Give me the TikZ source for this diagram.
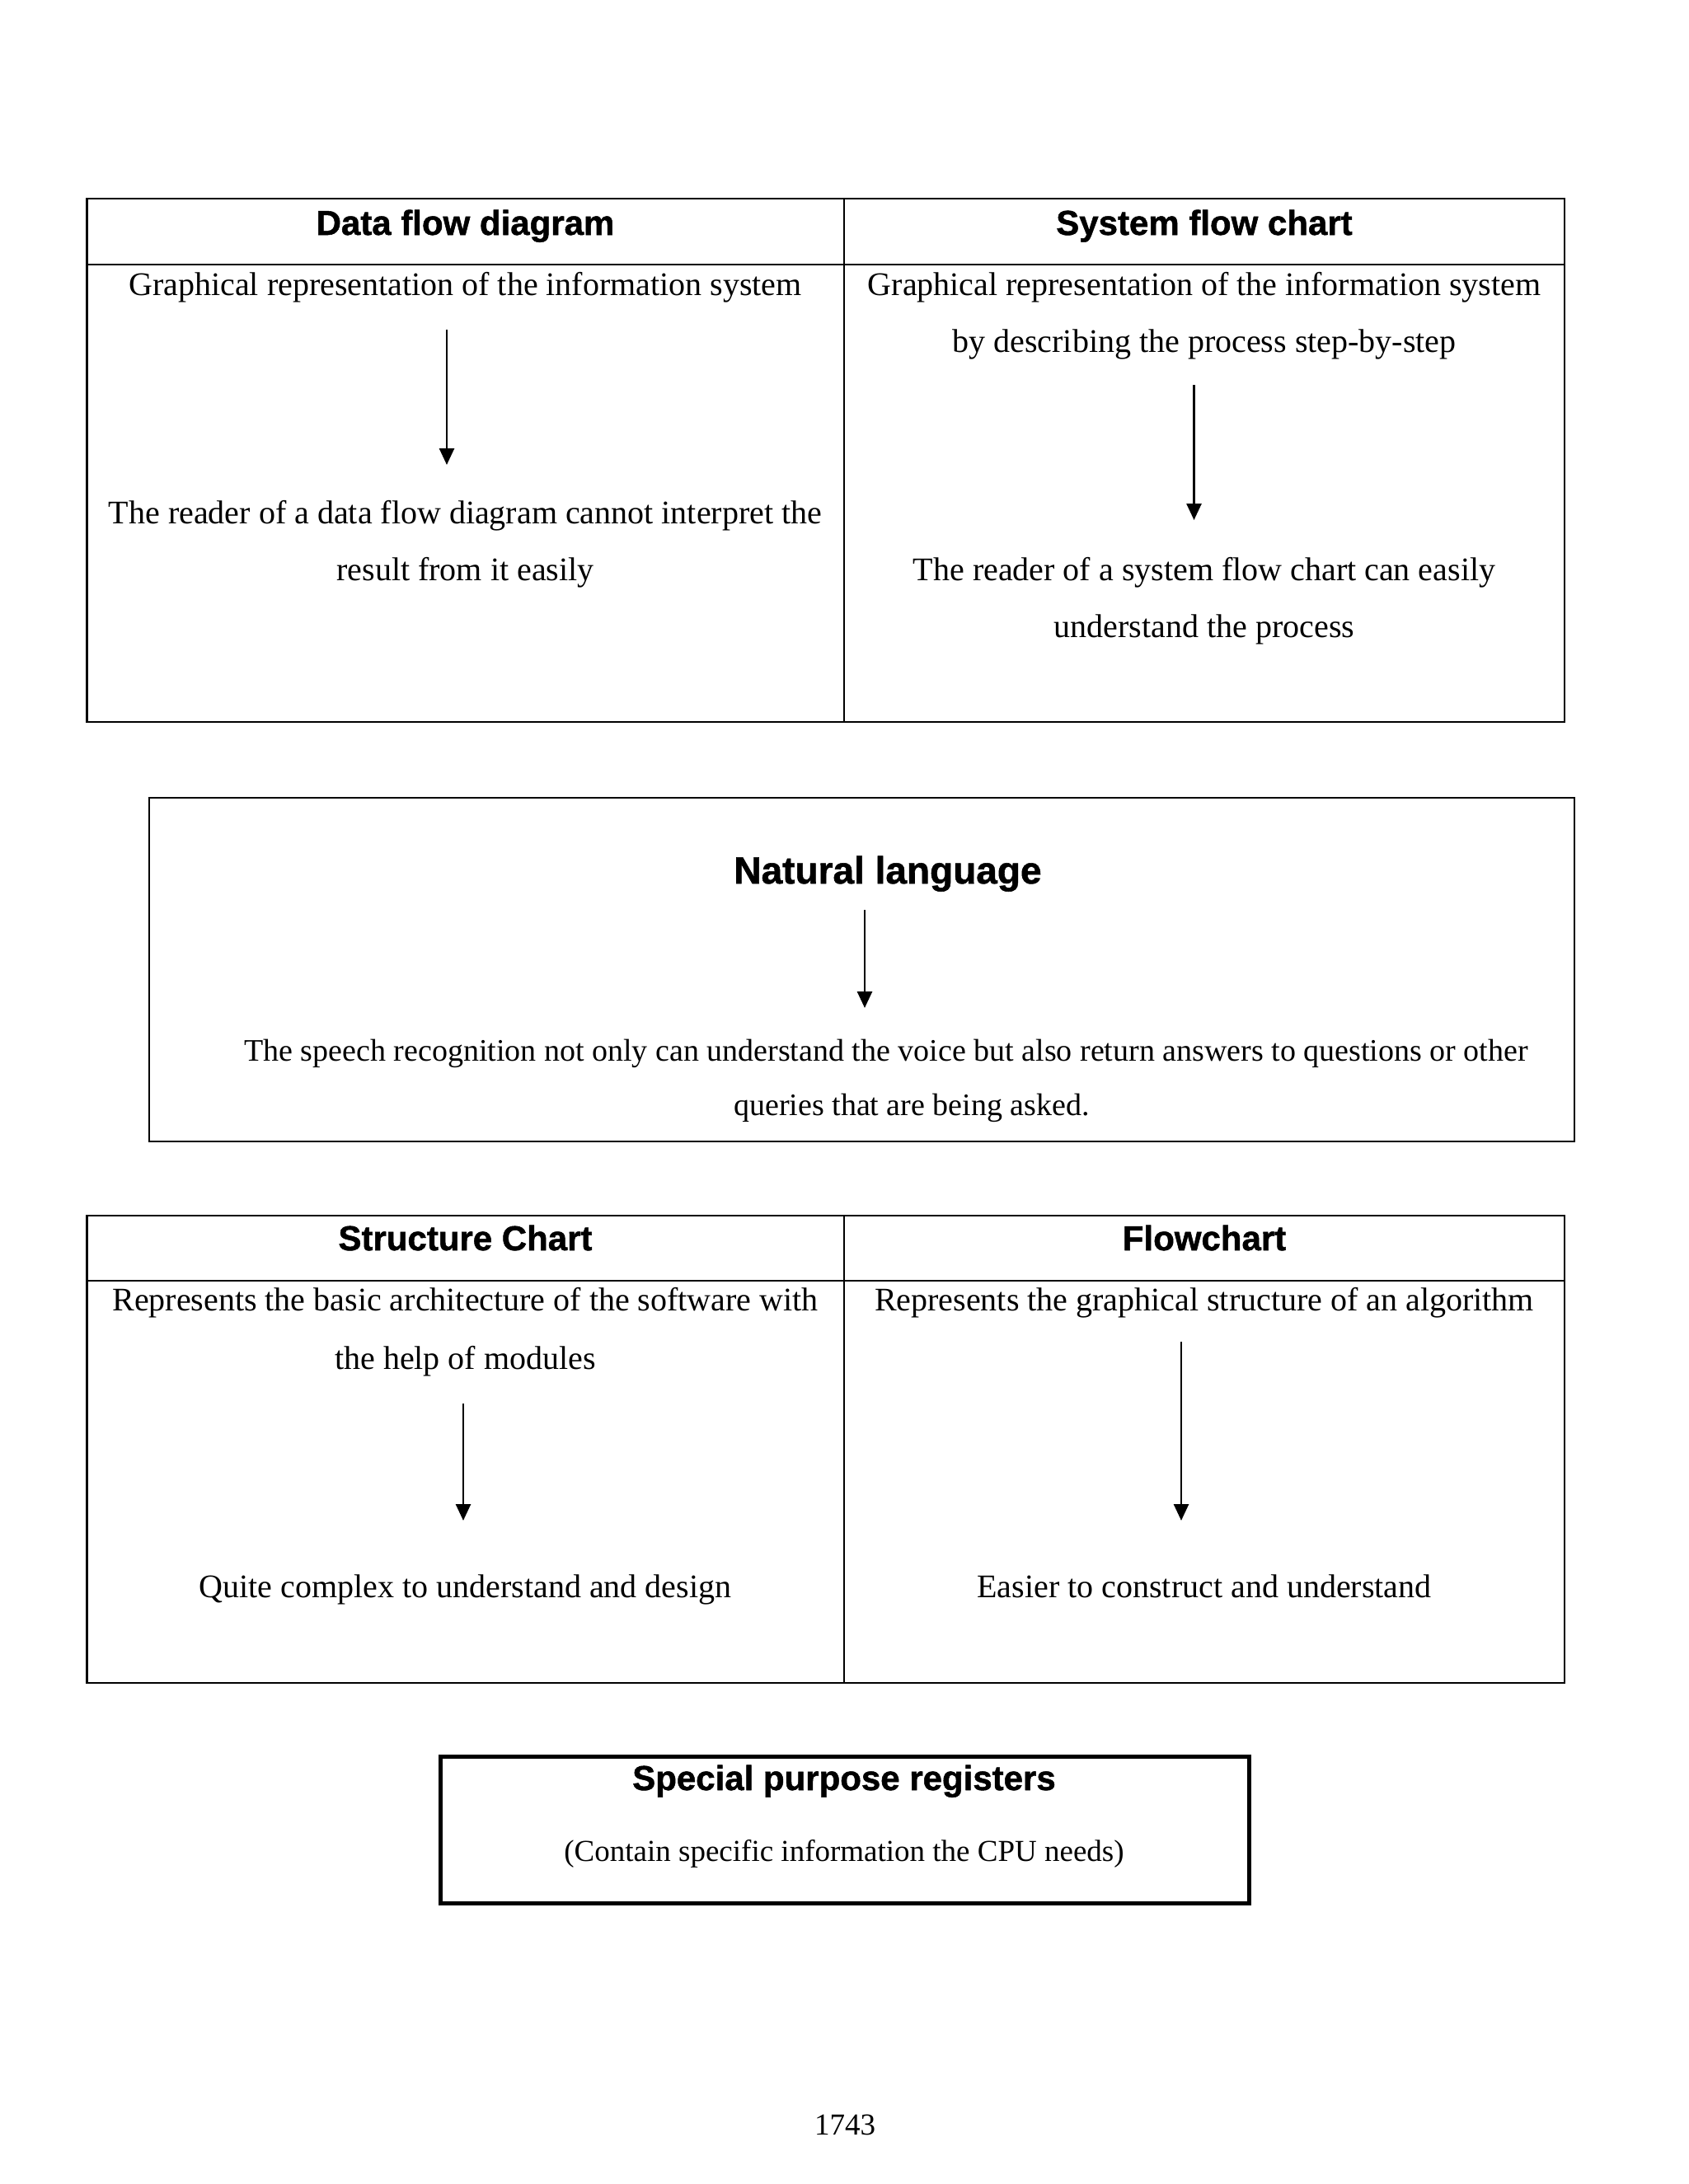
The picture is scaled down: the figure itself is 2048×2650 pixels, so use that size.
\documentclass[tikz,border=0pt]{standalone}
\usepackage{fontspec}
\setmainfont{Liberation Serif}
\setsansfont{Liberation Sans}
\newfontfamily\headfont[FakeBold=1.2]{Liberation Sans Bold}
\usetikzlibrary{arrows.meta}
\begin{document}
\begin{tikzpicture}[x=1pt,y=-1pt,
  body/.style={font=\fontsize{40}{48}\selectfont, anchor=base, inner sep=0pt},
  bodys/.style={font=\fontsize{38}{46}\selectfont, anchor=base, inner sep=0pt},
  bodyt/.style={font=\fontsize{37}{45}\selectfont, anchor=base, inner sep=0pt},
  head/.style={font=\headfont\fontsize{42}{50}\selectfont, anchor=base, inner sep=0pt},
  headbig/.style={font=\headfont\fontsize{46}{54}\selectfont, anchor=base, inner sep=0pt},
  frame/.style={line width=2.4pt},
  thickframe/.style={line width=5pt},
  arr/.style={line width=2.6pt, -{Triangle[length=20pt,width=18pt]}}]
\useasboundingbox (0,0) rectangle (2048,2650);
\fill[white] (0,0) rectangle (2048,2650);

% ---------- Table 1 ----------
\draw[frame] (105.5,241) rectangle (1898,876);
\draw[frame] (105.5,321) -- (1898,321);
\draw[frame] (1024,241) -- (1024,876);
\node[head] (h11) at (564.5,285) {Data flow diagram};
\node[head] (h12) at (1461,285) {System flow chart};
\node[body] (t11a) at (564.5,358) {Graphical representation of the information system};
\node[body] (t11b) at (564.5,635) {The reader of a data flow diagram cannot interpret the};
\node[body] (t11c) at (564.5,704) {result from it easily};
\node[body] (t12a) at (1461,358) {Graphical representation of the information system};
\node[body] (t12b) at (1461,427.5) {by describing the process step-by-step};
\node[body] (t12c) at (1461,704) {The reader of a system flow chart can easily};
\node[body] (t12d) at (1461,773.5) {understand the process};
\coordinate (a1s) at (542,399.5);
\coordinate (a1e) at (542,564);
\draw[arr] (a1s) -- (a1e);
\coordinate (a2s) at (1448.5,467);
\coordinate (a2e) at (1448.5,631);
\draw[arr] (a2s) -- (a2e);

% ---------- Box 2 ----------
\draw[frame] (181,968) rectangle (1910,1385);
\node[headbig] (nl) at (1077,1072) {Natural language};
\node[bodys] (nla) at (1075,1287) {The speech recognition not only can understand the voice but also return answers to questions or other};
\node[bodys] (nlb) at (1106,1353) {queries that are being asked.};
\coordinate (a3s) at (1049,1104);
\coordinate (a3e) at (1049,1223);
\draw[arr] (a3s) -- (a3e);

% ---------- Table 2 ----------
\draw[frame] (105.5,1475) rectangle (1898,2042);
\draw[frame] (105.5,1554) -- (1898,1554);
\draw[frame] (1024,1475) -- (1024,2042);
\node[head] (h21) at (564.5,1517) {Structure Chart};
\node[head] (h22) at (1461,1517) {Flowchart};
\node[body] (t21a) at (564.5,1590) {Represents the basic architecture of the software with};
\node[body] (t21b) at (564.5,1661) {the help of modules};
\node[body] (t21c) at (564.5,1938) {Quite complex to understand and design};
\node[body] (t22a) at (1461,1590) {Represents the graphical structure of an algorithm};
\node[body] (t22b) at (1461,1938) {Easier to construct and understand};
\coordinate (a4s) at (562,1703);
\coordinate (a4e) at (562,1845);
\draw[arr] (a4s) -- (a4e);
\coordinate (a5s) at (1433,1628);
\coordinate (a5e) at (1433,1845);
\draw[arr] (a5s) -- (a5e);

% ---------- Box 3 ----------
\draw[thickframe] (534,2131) rectangle (1515.5,2309.5);
\node[head] (sp) at (1024,2172) {Special purpose registers};
\node[bodyt] (spt) at (1024,2258) {(Contain specific information the CPU needs)};

% ---------- Page number ----------
\node[bodyt] (pg) at (1025,2590.5) {1743};
\end{tikzpicture}
\end{document}
